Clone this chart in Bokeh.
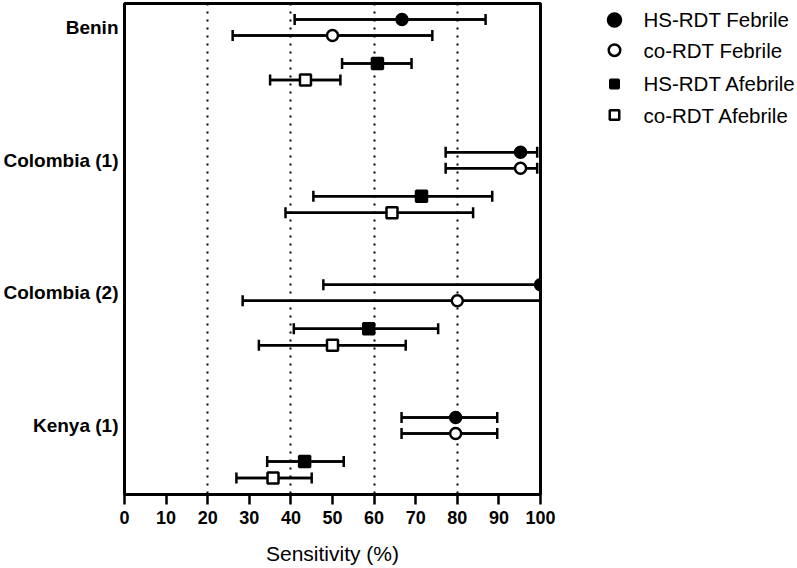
from bokeh.plotting import figure
from bokeh.models import ColumnDataSource, Range1d, FixedTicker, Whisker, TeeHead
from bokeh.core.properties import value
from bokeh.layouts import row
from bokeh.embed import file_html
from bokeh.resources import INLINE

# ---- data ----
categories = ["Benin", "Colombia (1)", "Colombia (2)", "Kenya (1)"]
series_names = ["HS-RDT Febrile", "co-RDT Febrile", "HS-RDT Afebrile", "co-RDT Afebrile"]

hs_feb = [66.7, 95.2, 100.0, 79.6]
hs_feb_lo = [40.9, 77.2, 47.8, 66.6]
hs_feb_hi = [86.8, 99.2, 100.0, 89.6]

co_feb = [50.0, 95.2, 80.0, 79.6]
co_feb_lo = [26.0, 77.2, 28.4, 66.6]
co_feb_hi = [74.0, 99.2, 100.0, 89.6]

hs_afeb = [60.8, 71.4, 58.7, 43.3]
hs_afeb_lo = [52.3, 45.4, 40.7, 34.3]
hs_afeb_hi = [69.0, 88.4, 75.4, 52.7]

co_afeb = [43.5, 64.3, 50.0, 35.7]
co_afeb_lo = [35.0, 38.7, 32.3, 26.9]
co_afeb_hi = [51.9, 83.8, 67.6, 45.0]

x_ticks = [0, 10, 20, 30, 40, 50, 60, 70, 80, 90, 100]

# ---- layout / style constants ----
row_offsets = [-0.0603, 0.0603, 0.2713, 0.3957]
markers = ["circle", "circle", "square", "square"]
fills = ["black", "white", "black", "white"]
FONT = "Liberation Sans"
H = 568
W_MAIN = 560

p = figure(width=W_MAIN, height=H, output_backend="svg", toolbar_location=None,
           x_range=Range1d(0, 100), y_range=Range1d(3.5201, -0.1809),
           min_border_left=123, min_border_right=W_MAIN - 123 - 417, min_border_top=3,
           min_border_bottom=74)
p.background_fill_color = "white"
p.border_fill_color = "white"
p.outline_line_color = "black"
p.outline_line_width = 3
p.outline_line_alpha = 1

p.xaxis.ticker = FixedTicker(ticks=x_ticks)
p.xaxis.axis_label = "Sensitivity (%)"
p.xaxis.axis_label_text_font = FONT
p.xaxis.axis_label_text_font_size = "21px"
p.xaxis.axis_label_text_font_style = "normal"
p.xaxis.axis_label_text_color = "black"
p.xaxis.axis_label_standoff = 15
p.xaxis.major_label_text_font = FONT
p.xaxis.major_label_text_font_size = "18px"
p.xaxis.major_label_text_font_style = "bold"
p.xaxis.major_label_text_color = "black"
p.xaxis.major_label_standoff = 6
p.xaxis.axis_line_width = 3
p.xaxis.axis_line_color = "black"
p.xaxis.major_tick_line_width = 2.5
p.xaxis.major_tick_line_color = "black"
p.xaxis.major_tick_out = 10
p.xaxis.major_tick_in = 0
p.xaxis.minor_tick_line_color = None

p.yaxis.ticker = FixedTicker(ticks=list(range(len(categories))))
p.yaxis.major_label_overrides = {i: c for i, c in enumerate(categories)}
p.yaxis.major_label_text_font = FONT
p.yaxis.major_label_text_font_size = "19px"
p.yaxis.major_label_text_font_style = "bold"
p.yaxis.major_label_text_color = "black"
p.yaxis.major_label_standoff = 6
p.yaxis.axis_line_color = None
p.yaxis.major_tick_line_color = None
p.yaxis.major_tick_out = 0
p.yaxis.major_tick_in = 0
p.yaxis.minor_tick_line_color = None
p.yaxis.minor_tick_out = 0

p.xgrid.ticker = FixedTicker(ticks=[20, 40, 60, 80])
p.xgrid.grid_line_color = "black"
p.xgrid.grid_line_dash = "2 6"
p.xgrid.grid_line_width = 2
p.ygrid.grid_line_color = None

series = [
    (hs_feb, hs_feb_lo, hs_feb_hi),
    (co_feb, co_feb_lo, co_feb_hi),
    (hs_afeb, hs_afeb_lo, hs_afeb_hi),
    (co_afeb, co_afeb_lo, co_afeb_hi),
]

for k, (vals, lo, hi) in enumerate(series):
    ys = [i + row_offsets[k] for i in range(len(categories))]
    src = ColumnDataSource(dict(x=vals, lo=lo, hi=hi, y=ys))
    p.segment(x0="lo", x1="hi", y0="y", y1="y", source=src,
              line_color="black", line_width=2.5)
    w = Whisker(source=src, base="y", lower="lo", upper="hi", dimension="width",
                line_color="black", line_width=2.5,
                lower_head=TeeHead(size=11, line_width=2.5, line_color="black"),
                upper_head=TeeHead(size=11, line_width=2.5, line_color="black"))
    p.add_layout(w)
    p.scatter(x="x", y="y", source=src, marker=markers[k], size=11,
              fill_color=fills[k], line_color="black", line_width=2.5)

# ---- legend drawn in a companion panel (pixel coordinates) ----
LW = 797 - W_MAIN
lf = figure(width=LW, height=H, output_backend="svg", toolbar_location=None,
            x_range=Range1d(0, LW), y_range=Range1d(H, 0),
            min_border=0, x_axis_location=None, y_axis_location=None)
lf.outline_line_color = None
lf.grid.visible = False
lf.background_fill_color = "white"
lf.border_fill_color = "white"

leg_y = [19, 54, 93, 129]
leg_sizes = [13, 11.5, 8.5, 9.5]
leg_src = ColumnDataSource(dict(x=[614 - W_MAIN] * 4, y=leg_y, size=leg_sizes,
                                fill=fills, marker=markers,
                                tx=[643 - W_MAIN] * 4, label=series_names))
lf.scatter(x="x", y="y", size="size", marker="marker", fill_color="fill",
           line_color="black", line_width=2.5, source=leg_src)
lf.text(x="tx", y="y", text="label", source=leg_src, text_font=value(FONT),
        text_font_size="20.5px", text_baseline="middle", text_align="left",
        text_color="black")

layout = row(p, lf)
open("out.html", "w").write(file_html(layout, INLINE))
